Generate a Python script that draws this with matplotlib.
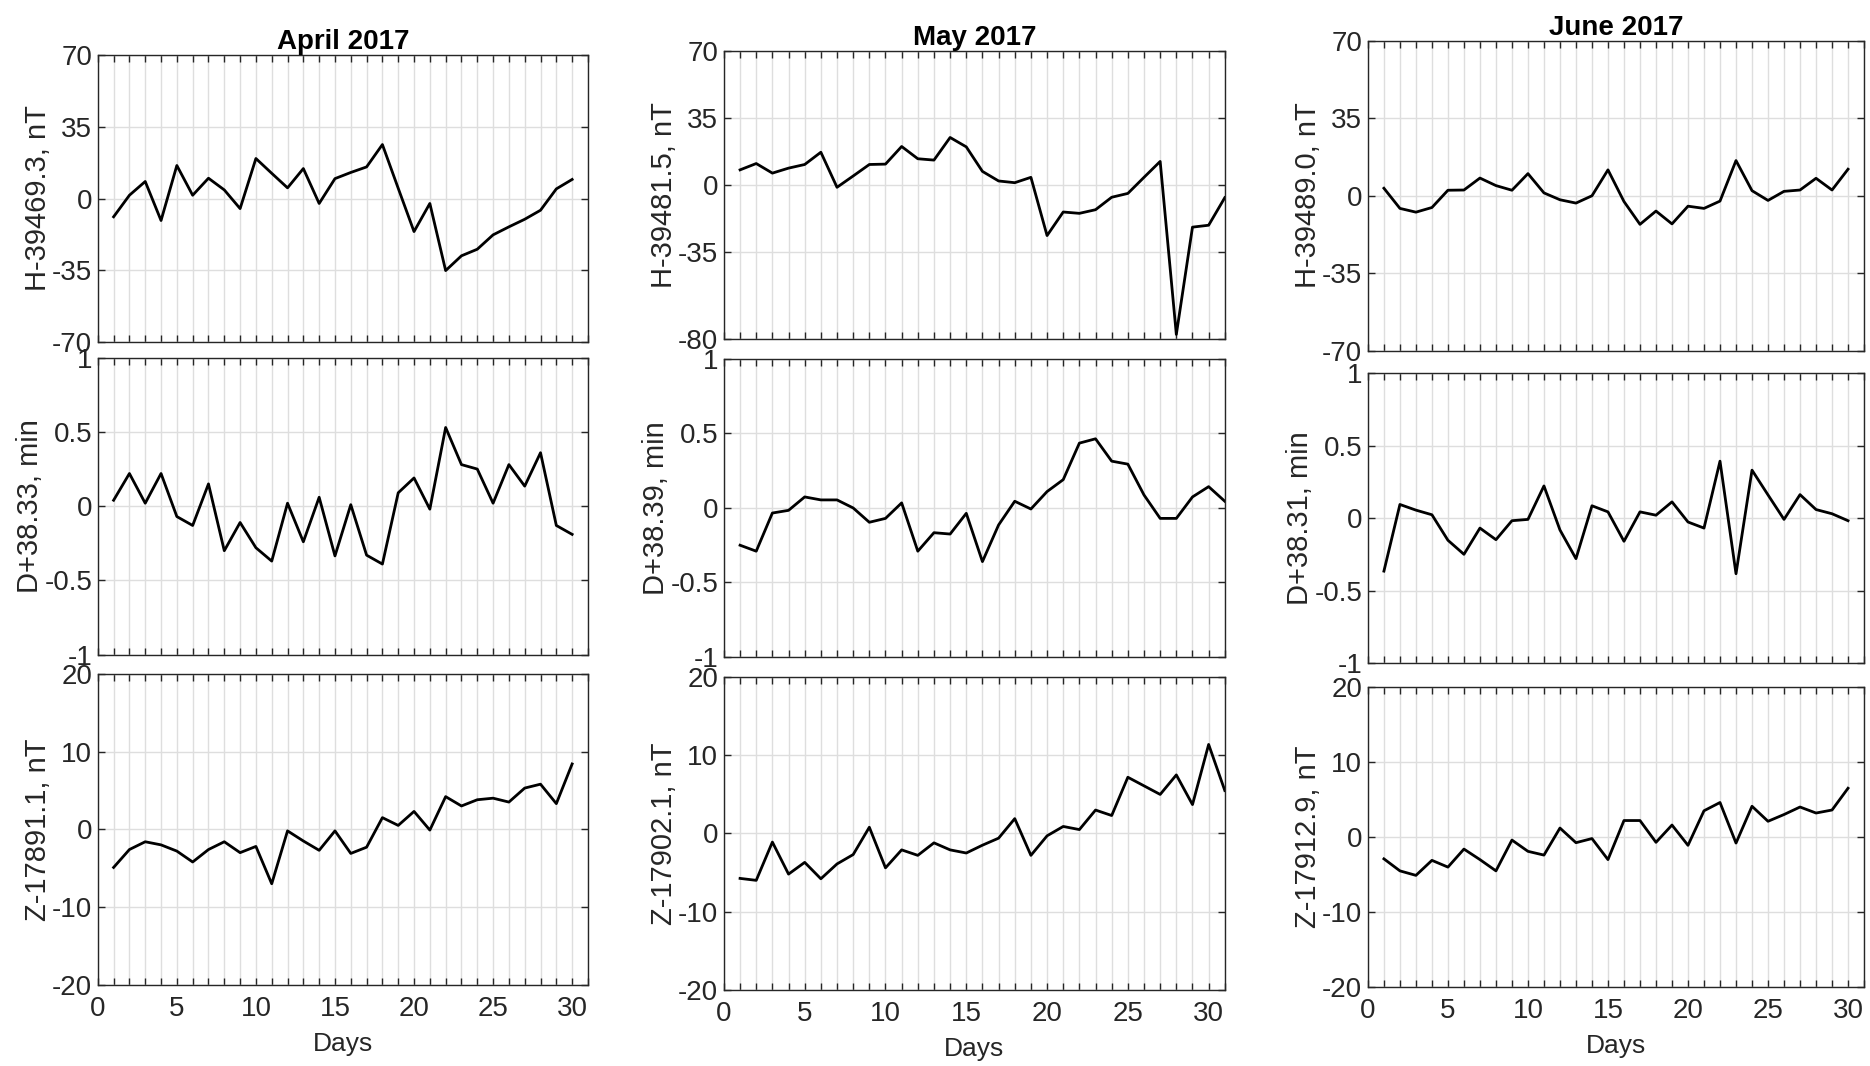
import matplotlib
matplotlib.use("Agg")
import matplotlib.pyplot as plt
from matplotlib.ticker import FixedLocator, FuncFormatter

plt.rcParams["font.family"] = ["Liberation Sans", "DejaVu Sans"]

months = ["April 2017", "May 2017", "June 2017"]
n_days = [30, 31, 30]

# Daily mean variations of H (nT), D (min) and Z (nT)
h_apr = [-8.9, 1.6, 8.3, -10.7, 16.1, 1.6, 9.9, 4.2, -4.9, 19.5,
         12.3, 5.2, 14.6, -2.4, 9.7, 12.7, 15.4, 26.3, 5.0, -16.1,
         -2.4, -35.1, -27.9, -24.7, -17.7, -13.8, -10.1, -5.7, 4.7, 9.3]
h_may = [8.1, 11.4, 6.4, 9.0, 10.9, 17.3, -1.0, 4.9, 10.9, 11.1,
         20.3, 13.9, 13.2, 25.0, 20.1, 7.3, 2.3, 1.4, 4.2, -26.2,
         -13.9, -14.6, -12.7, -6.2, -4.2, 4.2, 12.5, -77.8, -21.8, -20.8,
         -6.4]
h_jun = [3.3, -5.8, -7.5, -5.4, 2.4, 2.5, 7.9, 4.5, 2.4, 9.9,
         1.2, -1.9, -3.4, -0.1, 11.6, -2.7, -13.0, -7.0, -12.8, -4.8,
         -5.8, -2.5, 15.8, 2.2, -2.2, 1.9, 2.5, 7.8, 2.5, 11.9]

d_apr = [0.04, 0.22, 0.02, 0.22, -0.07, -0.13, 0.15, -0.30, -0.11, -0.28,
         -0.37, 0.02, -0.24, 0.06, -0.335, 0.01, -0.33, -0.39, 0.09, 0.19,
         -0.02, 0.53, 0.28, 0.25, 0.02, 0.28, 0.135, 0.36, -0.13, -0.19]
d_may = [-0.25, -0.29, -0.034, -0.016, 0.074, 0.054, 0.054, 0.0, -0.096, -0.07,
         0.034, -0.29, -0.166, -0.175, -0.036, -0.36, -0.114, 0.045, -0.007, 0.11,
         0.19, 0.435, 0.464, 0.314, 0.294, 0.087, -0.07, -0.07, 0.074, 0.143,
         0.045]
d_jun = [-0.366, 0.094, 0.055, 0.023, -0.153, -0.25, -0.069, -0.149, -0.018, -0.009,
         0.222, -0.082, -0.28, 0.085, 0.043, -0.16, 0.043, 0.02, 0.112, -0.027,
         -0.069, 0.393, -0.384, 0.331, 0.16, -0.009, 0.162, 0.059, 0.03, -0.018]

z_apr = [-4.9, -2.6, -1.6, -2.0, -2.8, -4.2, -2.6, -1.6, -3.0, -2.2,
         -7.0, -0.2, -1.5, -2.7, -0.2, -3.1, -2.3, 1.5, 0.5, 2.3,
         -0.1, 4.2, 3.0, 3.8, 4.0, 3.5, 5.3, 5.8, 3.3, 8.4]
z_may = [-5.75, -6.0, -1.1, -5.2, -3.7, -5.8, -3.9, -2.7, 0.8, -4.4,
         -2.1, -2.8, -1.2, -2.1, -2.5, -1.5, -0.6, 1.9, -2.8, -0.3,
         0.9, 0.5, 3.0, 2.3, 7.2, 6.1, 5.0, 7.5, 3.7, 11.4,
         5.5]
z_jun = [-2.9, -4.5, -5.1, -3.1, -4.0, -1.6, -3.0, -4.5, -0.4, -1.9,
         -2.4, 1.2, -0.75, -0.2, -3.0, 2.2, 2.2, -0.7, 1.6, -1.1,
         3.5, 4.6, -0.8, 4.1, 2.1, 3.0, 4.0, 3.2, 3.6, 6.5]

h_labels = ["H-39469.3, nT", "H-39481.5, nT", "H-39489.0, nT"]
d_labels = ["D+38.33, min", "D+38.39, min", "D+38.31, min"]
z_labels = ["Z-17891.1, nT", "Z-17902.1, nT", "Z-17912.9, nT"]

h_ticks = [[-70, -35, 0, 35, 70], [-80, -35, 0, 35, 70], [-70, -35, 0, 35, 70]]
d_ticks = [-1, -0.5, 0, 0.5, 1]
z_ticks = [-20, -10, 0, 10, 20]

series = [[h_apr, d_apr, z_apr], [h_may, d_may, z_may], [h_jun, d_jun, z_jun]]
ylabels = [h_labels, d_labels, z_labels]

# axes boxes (left, right, top, bottom) in a 1568 x 894 pixel frame
W, H = 1568.0, 894.0
cols_x = [(82, 493), (607, 1027), (1147, 1563)]
rows_y = [
    [(46, 287), (300, 549), (565, 826)],
    [(43, 284), (301, 551), (568, 830)],
    [(34, 294), (313, 556), (576, 828)],
]

fig = plt.figure(figsize=(18.70, 10.66), dpi=100)
spine_col = "#262626"


def fmt(v, pos):
    if abs(v - round(v)) < 1e-9:
        return "%d" % round(v)
    return ("%g" % v)


for c in range(3):
    x0, x1 = cols_x[c]
    days = list(range(1, n_days[c] + 1))
    for r in range(3):
        y0, y1 = rows_y[c][r]
        ax = fig.add_axes([x0 / W, 1 - y1 / H, (x1 - x0) / W, (y1 - y0) / H])
        vals = series[c][r]
        ax.plot(days, vals, color="black", linewidth=2.0)

        ax.set_xlim(0, 31)
        if r == 0:
            ticks = h_ticks[c]
        elif r == 1:
            ticks = d_ticks
        else:
            ticks = z_ticks
        ax.set_ylim(ticks[0], ticks[-1])
        ax.yaxis.set_major_locator(FixedLocator(ticks))
        ax.yaxis.set_major_formatter(FuncFormatter(fmt))

        ax.xaxis.set_major_locator(FixedLocator(list(range(0, 32))))
        if r == 2:
            ax.xaxis.set_major_formatter(
                FuncFormatter(lambda v, p: "%d" % v if int(round(v)) % 5 == 0 else ""))
            ax.set_xlabel("Days", fontsize=19, labelpad=7, color="#262626")
        else:
            ax.set_xticklabels([])

        ax.grid(True, color="#dedede", linewidth=1.0)
        ax.set_axisbelow(True)
        ax.tick_params(axis="both", direction="in", top=True, right=True,
                       length=5, width=1.0, color=spine_col,
                       labelsize=20, labelcolor="#262626", pad=4)
        ax.tick_params(axis="x", pad=8)
        for sp in ax.spines.values():
            sp.set_color(spine_col)
            sp.set_linewidth(1.0)
        ax.set_ylabel(ylabels[r][c], fontsize=21, labelpad=0, color="#262626")

        if r == 0:
            ax.set_title(months[c], fontsize=20, fontweight="bold", pad=4)

fig.savefig("out.png", dpi=100)
